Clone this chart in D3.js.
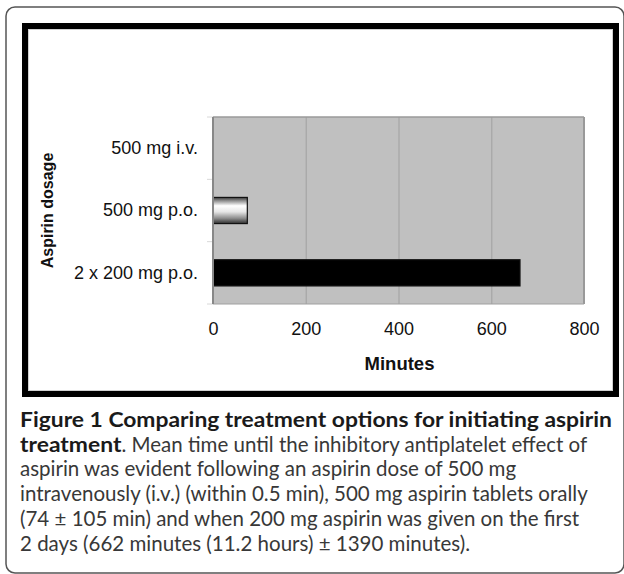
<!DOCTYPE html>
<html>
<head>
<meta charset="utf-8">
<script src="https://cdn.jsdelivr.net/npm/d3@7"></script>
<style>
  body { margin: 0; background: #fff; }
  svg { display: block; }
</style>
</head>
<body>
<div id="graf"></div>
<script>
// datos
const categorias = ['500 mg i.v.', '500 mg p.o.', '2 x 200 mg p.o.']
const minutos = [0.5, 74, 662]
const ticksX = [0, 200, 400, 600, 800]

// leyenda de la figura (negrita, normal)
const leyenda = [
  [['Figure 1 Comparing treatment options for initiating aspirin', true]],
  [['treatment', true], ['. Mean time until the inhibitory antiplatelet effect of', false]],
  [['aspirin was evident following an aspirin dose of 500 mg', false]],
  [['intravenously (i.v.) (within 0.5 min), 500 mg aspirin tablets orally', false]],
  [['(74 \u00b1 105 min) and when 200 mg aspirin was given on the first', false]],
  [['2 days (662 minutes (11.2 hours) \u00b1 1390 minutes).', false]]
]

ancho_total = 624
alto_total = 574

svg = d3.select('#graf').append('svg')
  .attr('width', ancho_total)
  .attr('height', alto_total)

// gradiente del cilindro
defs = svg.append('defs')
grad = defs.append('linearGradient')
  .attr('id', 'cil')
  .attr('x1', 0).attr('y1', 0).attr('x2', 0).attr('y2', 1)
;[[0, '#3a3a3a'], [0.12, '#8a8a8a'], [0.32, '#ffffff'], [0.55, '#e6e6e6'], [0.8, '#8c8c8c'], [1, '#2e2e2e']]
  .forEach(s => grad.append('stop').attr('offset', s[0]).attr('stop-color', s[1]))

// marco exterior redondeado (se corta a la derecha y abajo)
svg.append('rect')
  .attr('x', 6).attr('y', 7)
  .attr('width', 618).attr('height', 566)
  .attr('rx', 9)
  .attr('fill', 'none')
  .attr('stroke', '#555')
  .attr('stroke-width', 1.5)

// marco negro grueso
svg.append('rect')
  .attr('x', 25).attr('y', 26)
  .attr('width', 591).attr('height', 368)
  .attr('fill', '#fff')
  .attr('stroke', '#000')
  .attr('stroke-width', 6)
svg.append('rect')
  .attr('x', 28.5).attr('y', 29.5)
  .attr('width', 584).attr('height', 361)
  .attr('fill', 'none')
  .attr('stroke', '#d0d0d0')
  .attr('stroke-width', 1)

// escalas
plotIzq = 213, plotDer = 584, plotTop = 117, plotBot = 304

x = d3.scaleLinear()
  .domain([0, 800])
  .range([plotIzq, plotDer])

y = d3.scaleBand()
  .domain(categorias)
  .range([plotTop, plotBot])
  .paddingInner(0.58)
  .paddingOuter(0.29)

g = svg.append('g')

// fondo gris
g.append('rect')
  .attr('x', x(0)).attr('y', plotTop)
  .attr('width', x(800) - x(0))
  .attr('height', plotBot - plotTop)
  .attr('fill', '#c0c0c0')

// lineas de cuadricula
gridCall = d3.axisBottom(x)
  .tickValues(ticksX.slice(1, -1))
  .tickSize(-(plotBot - plotTop))
  .tickFormat('')
g.append('g')
  .attr('transform', `translate(0, ${plotBot})`)
  .call(gridCall)
  .call(s => s.select('.domain').remove())
  .selectAll('line')
  .attr('stroke', '#a8a8a8')
  .attr('stroke-width', 1.3)

// borde del area
g.append('line')
  .attr('x1', x(0)).attr('x2', x(800))
  .attr('y1', plotTop).attr('y2', plotTop)
  .attr('stroke', '#9a9a9a').attr('stroke-width', 1.3)
g.append('line')
  .attr('x1', x(800)).attr('x2', x(800))
  .attr('y1', plotTop).attr('y2', plotBot)
  .attr('stroke', '#999').attr('stroke-width', 2)
g.append('line')
  .attr('x1', x(0)).attr('x2', x(800))
  .attr('y1', plotBot).attr('y2', plotBot)
  .attr('stroke', '#a0a0a0').attr('stroke-width', 1)

// marcas entre categorias
limites = d3.range(categorias.length + 1).map(i => plotTop + i * y.step())
g.selectAll('.marca')
  .data(limites)
  .enter().append('line')
  .attr('class', 'marca')
  .attr('x1', x(0) - 6).attr('x2', x(0))
  .attr('y1', d => d).attr('y2', d => d)
  .attr('stroke', '#d8d8d8')
  .attr('stroke-width', 1)

// barras
rellenos = ['url(#cil)', 'url(#cil)', '#000']
g.selectAll('.barra')
  .data(minutos)
  .enter().append('rect')
  .attr('class', 'barra')
  .attr('x', x(0))
  .attr('y', (d, i) => y(categorias[i]))
  .attr('width', d => x(d) - x(0))
  .attr('height', y.bandwidth())
  .attr('fill', (d, i) => rellenos[i])
  .attr('stroke', d => (x(d) - x(0)) > 2 ? '#111' : 'none')
  .attr('stroke-width', 1.2)

// eje y (linea)
g.append('line')
  .attr('x1', x(0)).attr('x2', x(0))
  .attr('y1', plotTop).attr('y2', plotBot)
  .attr('stroke', '#888').attr('stroke-width', 2)

// etiquetas del eje y
yAxisCall = d3.axisLeft(y).tickSize(0).tickPadding(15)
g.append('g')
  .attr('transform', `translate(${x(0)}, 0)`)
  .call(yAxisCall)
  .call(s => s.select('.domain').remove())
  .selectAll('text')
  .attr('font-family', 'Liberation Sans, Arial, sans-serif')
  .attr('font-size', '18px')
  .attr('fill', '#111')

// etiquetas del eje x
xAxisCall = d3.axisBottom(x).tickValues(ticksX).tickSize(0).tickPadding(18)
g.append('g')
  .attr('transform', `translate(0, ${plotBot})`)
  .call(xAxisCall)
  .call(s => s.select('.domain').remove())
  .selectAll('text')
  .attr('font-family', 'Liberation Sans, Arial, sans-serif')
  .attr('font-size', '18px')
  .attr('fill', '#111')

// titulos de ejes
g.append('text')
  .attr('x', (x(0) + x(800)) / 2 + 1)
  .attr('y', 370)
  .attr('text-anchor', 'middle')
  .attr('font-family', 'Liberation Sans, Arial, sans-serif')
  .attr('font-weight', 'bold')
  .attr('font-size', '18.5px')
  .attr('fill', '#111')
  .text('Minutes')

g.append('text')
  .attr('transform', `translate(53, ${(plotTop + plotBot) / 2}) rotate(-90)`)
  .attr('text-anchor', 'middle')
  .attr('font-family', 'Liberation Sans, Arial, sans-serif')
  .attr('font-weight', 'bold')
  .attr('font-size', '16px')
  .attr('fill', '#111')
  .text('Aspirin dosage')

// leyenda
cap = svg.append('g')
  .attr('font-family', 'Lato, sans-serif')
lineas = []
leyenda.forEach((linea, i) => {
  t = cap.append('text')
    .attr('x', 20)
    .attr('y', 427 + i * 24.7)
  linea.forEach(seg => {
    t.append('tspan')
      .attr('class', seg[1] ? 'neg' : 'nor')
      .attr('font-weight', seg[1] ? 'bold' : 'normal')
      .attr('font-size', seg[1] ? '20.5px' : '20px')
      .attr('fill', seg[1] ? '#1a1a1a' : '#383838')
      .text(seg[0])
  })
  lineas.push(t)
})
// ajustar tamaños: linea 4 (normal) hasta x = 590
wNor = lineas[3].node().getComputedTextLength()
tamNor = Math.min(20 * 570 / wNor, 20.5)
cap.selectAll('.nor').attr('font-size', tamNor.toFixed(2) + 'px')
// la negrita del original es mas ancha: se estira para que la linea 1 llegue a x = 612
wNeg = lineas[0].node().getComputedTextLength()
factor = 592 / wNeg
cap.selectAll('.neg').each(function() {
  const w = this.getComputedTextLength()
  d3.select(this)
    .attr('textLength', (w * factor).toFixed(1))
    .attr('lengthAdjust', 'spacingAndGlyphs')
})
</script>
</body>
</html>
